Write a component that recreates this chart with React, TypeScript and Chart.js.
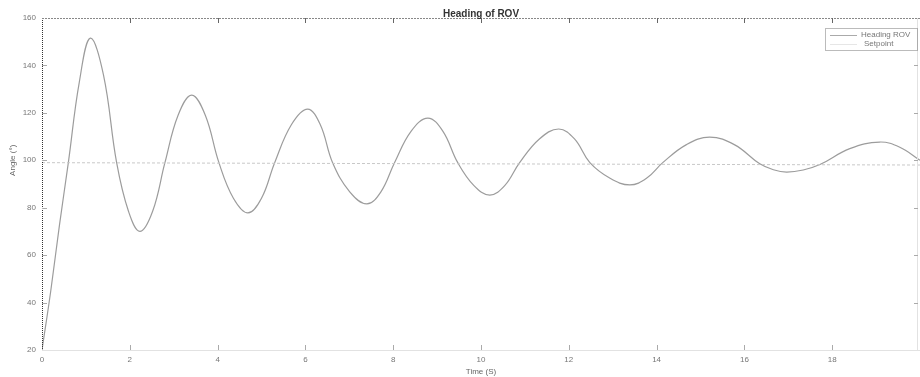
import React, { useEffect, useRef } from "react";
import { Chart, registerables } from "chart.js";

Chart.register(...registerables);

const TITLE = "Heading of ROV";
const X_LABEL = "Time (S)";
const Y_LABEL = "Angle (°)";
const SERIES_NAMES = ["Heading ROV", "Setpoint"];

const time = [
  0, 0.2, 0.4, 0.6, 0.85, 1.1, 1.4, 1.7, 1.97, 2.23, 2.52, 2.8, 3.1, 3.41, 3.72, 4.03,
  4.36, 4.69, 5.0, 5.3, 5.68, 6.05, 6.34, 6.62, 7.01, 7.4, 7.72, 8.03, 8.41, 8.79, 9.13,
  9.47, 9.84, 10.2, 10.54, 10.88, 11.33, 11.77, 12.13, 12.48, 12.94, 13.39, 13.77, 14.14,
  14.68, 15.21, 15.78, 16.35, 16.66, 16.96, 17.34, 17.72, 18.4, 19.08, 19.54, 20.0,
];
const heading = [
  20, 45, 73, 99, 133, 151.5, 136, 99, 78.5, 70, 78.5, 99, 119, 127.5, 119, 99,
  84, 77.8, 84, 99, 115, 121.6, 115, 99, 86.7, 81.6, 86.7, 99, 112.3, 117.8, 112.3,
  99, 89.3, 85.3, 89.3, 99, 109, 113.2, 109, 99, 92.4, 89.6, 92.4, 99,
  106.6, 109.8, 106.5, 98.5, 96, 95, 95.9, 98.2, 104.9, 107.7, 105.5, 100,
];
const setpointTime = [0, 20];
const setpointValue = [99, 98];

const xTicks = [0, 2, 4, 6, 8, 10, 12, 14, 16, 18, 20];
const yTicks = [20, 40, 60, 80, 100, 120, 140, 160];

const FONT = "'Liberation Sans', Arial, sans-serif";

const overlay = {
  id: "overlay",
  afterDraw(chart: any) {
    const ctx = chart.ctx;
    const a = chart.chartArea;
    const xs = chart.scales.x;
    const ys = chart.scales.y;
    ctx.save();
    // frame
    ctx.lineWidth = 1;
    ctx.strokeStyle = "#333";
    ctx.setLineDash([1, 1]);
    ctx.beginPath();
    ctx.moveTo(a.left + 0.5, a.top);
    ctx.lineTo(a.left + 0.5, a.bottom);
    ctx.stroke();
    ctx.strokeStyle = "#888";
    ctx.setLineDash([2, 1]);
    ctx.beginPath();
    ctx.moveTo(a.left, a.top + 0.5);
    ctx.lineTo(a.right, a.top + 0.5);
    ctx.stroke();
    ctx.strokeStyle = "#e2e2e2";
    ctx.setLineDash([]);
    ctx.beginPath();
    ctx.moveTo(a.left, a.bottom + 0.5);
    ctx.lineTo(a.right, a.bottom + 0.5);
    ctx.moveTo(a.right - 2.5, a.top);
    ctx.lineTo(a.right - 2.5, a.bottom);
    ctx.stroke();
    // inward ticks
    ctx.strokeStyle = "#666";
    ctx.beginPath();
    xTicks.forEach((v) => {
      const px = Math.round(xs.getPixelForValue(v)) + 0.5;
      if (v > 0 && v < 20) {
        ctx.moveTo(px, a.top);
        ctx.lineTo(px, a.top + 5);
      }
    });
    ctx.stroke();
    ctx.strokeStyle = "#aaa";
    ctx.beginPath();
    xTicks.forEach((v) => {
      const px = Math.round(xs.getPixelForValue(v)) + 0.5;
      if (v > 0 && v < 20) {
        ctx.moveTo(px, a.bottom);
        ctx.lineTo(px, a.bottom - 5);
      }
    });
    yTicks.forEach((v) => {
      const py = Math.round(ys.getPixelForValue(v)) + 0.5;
      if (v > 20 && v < 160) {
        ctx.moveTo(a.left, py);
        ctx.lineTo(a.left + 5, py);
        ctx.moveTo(a.right - 2, py);
        ctx.lineTo(a.right - 6, py);
      }
    });
    ctx.stroke();
    // title
    ctx.fillStyle = "#333";
    ctx.font = `bold 10px ${FONT}`;
    ctx.textAlign = "center";
    ctx.textBaseline = "middle";
    ctx.fillText(TITLE, xs.getPixelForValue(10), 14);
    // axis titles
    ctx.font = `8px ${FONT}`;
    ctx.fillStyle = "#666";
    ctx.fillText(X_LABEL, xs.getPixelForValue(10), 372);
    ctx.save();
    ctx.translate(13, ys.getPixelForValue(100));
    ctx.rotate(-Math.PI / 2);
    ctx.fillText(Y_LABEL, 0, 0);
    ctx.restore();
    // legend
    const lx = 825, ly = 28, lw = 92, lh = 22;
    ctx.fillStyle = "#fff";
    ctx.fillRect(lx, ly, lw, lh);
    ctx.strokeStyle = "#777";
    ctx.setLineDash([1, 1]);
    ctx.strokeRect(lx + 0.5, ly + 0.5, lw, lh);
    ctx.setLineDash([]);
    ctx.strokeStyle = "#aaa";
    ctx.beginPath();
    ctx.moveTo(830, 35.5);
    ctx.lineTo(857, 35.5);
    ctx.stroke();
    ctx.strokeStyle = "#e6e6e6";
    ctx.beginPath();
    ctx.moveTo(830, 44.5);
    ctx.lineTo(857, 44.5);
    ctx.stroke();
    ctx.fillStyle = "#777";
    ctx.font = `8px ${FONT}`;
    ctx.textAlign = "left";
    ctx.fillText(SERIES_NAMES[0], 861, 35);
    ctx.fillText(SERIES_NAMES[1], 864, 44);
    ctx.restore();
  },
};

export default function App() {
  const ref = useRef<HTMLCanvasElement>(null);
  useEffect(() => {
    document.body.style.margin = "0";
    const chart = new Chart(ref.current!, {
      type: "line",
      data: {
        datasets: [
          {
            label: SERIES_NAMES[1],
            data: setpointTime.map((t, i) => ({ x: t, y: setpointValue[i] })),
            borderColor: "#c8c8c8",
            borderWidth: 1,
            borderDash: [3, 2],
            pointRadius: 0,
          },
          {
            label: SERIES_NAMES[0],
            data: time.map((t, i) => ({ x: t, y: heading[i] })),
            borderColor: "#9c9c9c",
            borderWidth: 1.2,
            pointRadius: 0,
            tension: 0.4,
          },
        ],
      },
      options: {
        animation: false,
        responsive: true,
        maintainAspectRatio: false,
        layout: { padding: { top: 18, right: 0, left: 0, bottom: 0 } },
        plugins: { legend: { display: false }, tooltip: { enabled: false }, title: { display: false } },
        scales: {
          x: {
            type: "linear",
            min: 0,
            max: 20,
            afterFit: (s: any) => {
              s.height = 27;
              s.paddingLeft = 0;
              s.paddingRight = 0;
            },
            afterBuildTicks: (s: any) => {
              s.ticks = xTicks.map((v) => ({ value: v }));
            },
            ticks: {
              padding: 5,
              color: "#777",
              font: { family: FONT, size: 8 },
              maxRotation: 0,
              callback: (v: any) => (v === 20 ? "" : String(v)),
            },
            grid: { display: false, drawTicks: false },
            border: { display: false },
          },
          y: {
            min: 20,
            max: 160,
            afterFit: (s: any) => {
              s.width = 42;
              s.paddingTop = 0;
              s.paddingBottom = 0;
            },
            afterBuildTicks: (s: any) => {
              s.ticks = yTicks.map((v) => ({ value: v }));
            },
            ticks: {
              padding: 6,
              color: "#777",
              font: { family: FONT, size: 8 },
            },
            grid: { display: false, drawTicks: false },
            border: { display: false },
          },
        },
      },
      plugins: [overlay],
    });
    return () => chart.destroy();
  }, []);
  return (
    <div style={{ width: 920, height: 377, position: "relative" }}>
      <canvas ref={ref} />
    </div>
  );
}
